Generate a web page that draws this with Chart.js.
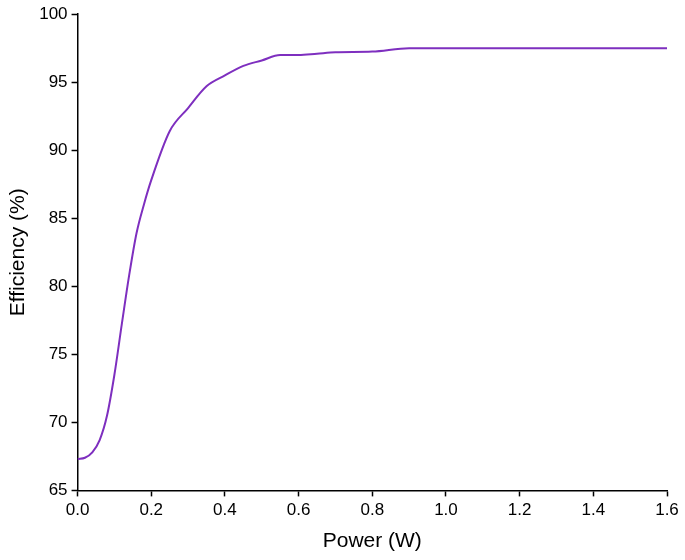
<!DOCTYPE html>
<html><head><meta charset="utf-8">
<script src="https://cdn.jsdelivr.net/npm/chart.js@4.4.0/dist/chart.umd.min.js"></script>
<style>body{margin:0;background:#fff}#w{width:685px;height:560px}</style>
</head><body><div id="w"><canvas id="c"></canvas></div>
<script>
const powerW = [0, 0.02, 0.04, 0.06, 0.08, 0.1, 0.12, 0.14, 0.16, 0.18, 0.2, 0.25, 0.3, 0.35, 0.4, 0.45, 0.5, 0.55, 0.6, 0.65, 0.7, 0.8, 0.9, 1.0, 1.2, 1.4, 1.6];
const efficiency = [67.3, 67.4, 67.8, 68.7, 70.5, 73.5, 77.2, 80.8, 83.9, 86.0, 87.8, 91.4, 93.1, 94.7, 95.5, 96.2, 96.6, 97.0, 97.0, 97.1, 97.2, 97.25, 97.5, 97.5, 97.5, 97.5, 97.5];
const xTicks = [0, 0.2, 0.4, 0.6, 0.8, 1.0, 1.2, 1.4, 1.6];
const yTicks = [65, 70, 75, 80, 85, 90, 95, 100];

const font = {family: 'Liberation Sans, Arial', size: 17};
const axis = (min, max, ticks, title, fmt) => ({
  type: 'linear', min, max,
  grid: {display: true, color: 'rgba(0,0,0,0)', drawOnChartArea: false, drawTicks: true, tickLength: 6, tickColor: '#000', tickWidth: 1.5},
  border: {color: '#000', width: 1.5},
  ticks: {color: '#000', font, padding: 4, callback: fmt},
  afterBuildTicks: s => { s.ticks = ticks.map(v => ({value: v})); },
  title: {display: true, text: title, color: '#000', font: {family: font.family, size: 21}}
});
new Chart(document.getElementById('c'), {
  type: 'line',
  data: {datasets: [{
    data: powerW.map((x, i) => ({x, y: efficiency[i]})),
    borderColor: '#7E2FBF', borderWidth: 2, pointRadius: 0,
    cubicInterpolationMode: 'monotone'
  }]},
  options: {
    animation: false, responsive: true, maintainAspectRatio: false,
    layout: {padding: {top: 8, right: 18, left: 2, bottom: 2}},
    plugins: {legend: {display: false}, tooltip: {enabled: false}},
    scales: {
      x: axis(0, 1.6, xTicks, 'Power (W)', v => v.toFixed(1)),
      y: axis(65, 100, yTicks, 'Efficiency (%)', v => v)
    }
  }
});
</script></body></html>
